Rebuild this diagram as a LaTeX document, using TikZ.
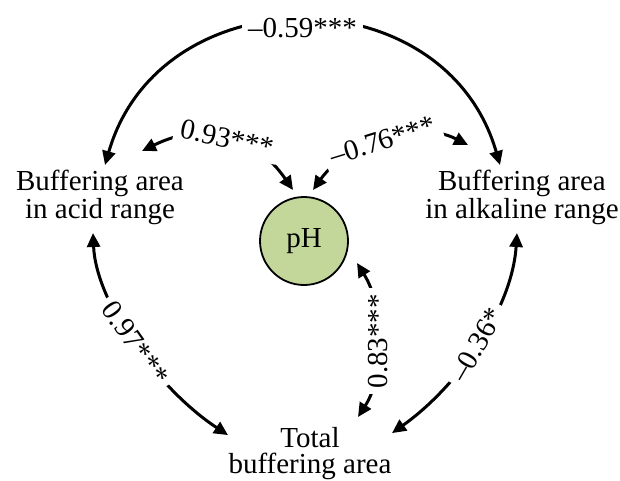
\documentclass[tikz,border=0pt]{standalone}
\usepackage{fontspec}
\setmainfont{Liberation Serif}
\usetikzlibrary{arrows.meta,calc}
\definecolor{phgreen}{RGB}{196,215,155}
\begin{document}
\begin{tikzpicture}[x=1pt,y=-1pt,
  every node/.style={font=\fontsize{29}{28}\selectfont, inner sep=0pt},
  var/.style={align=center},
  phnode/.style={circle, draw, line width=1.8pt, fill=phgreen, minimum size=88pt, inner sep=0pt},
  conn/.style={line width=3pt, {Triangle[length=14pt,width=13pt]}-{Triangle[length=14pt,width=13pt]}},
  lab/.style={fill=white, inner sep=6pt}]
\useasboundingbox (0,0) rectangle (620,481);
\node[var] (acid) at (100,197.5) {Buffering area\\in acid range};
\node[var] (alk) at (522,197.5) {Buffering area\\in alkaline range};
\node[var, font=\fontsize{29}{26}\selectfont] (tot) at (310,453.6) {Total\\buffering area};
\node[phnode] (ph) at (304,241) {pH};

\draw[conn] ($(acid.center)+(5,-32.5)$) .. controls (160,-26) and (445,-26) .. ($(alk.center)+(-22,-32.5)$)
  node[lab,pos=.5,yshift=-6pt] {–0.59***};
\draw[conn] ($(acid.center)+(42,-46.5)$) .. controls (205,120) and (255,135) .. ($(ph.center)+(-11,-51)$)
  node[lab,pos=.5,rotate=-12] {0.93***};
\draw[conn] ($(ph.center)+(9,-51)$) .. controls (345,145) and (415,118) .. ($(alk.center)+(-54,-52.5)$)
  node[lab,pos=.5,rotate=17] {–0.76***};
\draw[conn] ($(acid.center)+(-7,35.5)$) .. controls (96,303) and (158,389) .. ($(tot.center)+(-82,-18.5)$)
  node[lab,pos=.5,rotate=-55] {0.97***};
\draw[conn] ($(alk.center)+(-5,35.5)$) .. controls (512,310) and (457,387) .. ($(tot.center)+(82,-20.5)$)
  node[lab,pos=.5,rotate=60] {–0.36*};
\draw[conn] ($(ph.center)+(53,22)$) .. controls (385,308) and (385,375) .. ($(tot.center)+(48,-36.6)$)
  node[lab,pos=.5,rotate=90] {0.83***};
\end{tikzpicture}
\end{document}
